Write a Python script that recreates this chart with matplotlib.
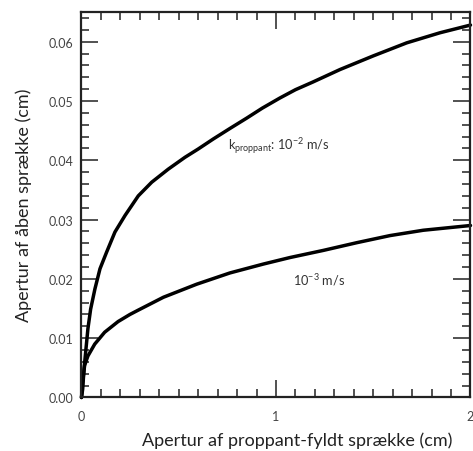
import matplotlib
matplotlib.use("Agg")
import matplotlib.pyplot as plt
from matplotlib.ticker import MultipleLocator

plt.rcParams['font.family'] = ['Lato', 'DejaVu Sans']
plt.rcParams['mathtext.fontset'] = 'custom'
plt.rcParams['mathtext.rm'] = 'Lato'
plt.rcParams['mathtext.it'] = 'Lato'

# Filled-fracture aperture (cm) vs. open-fracture aperture (cm)
# k_proppant = 1e-2 m/s
x_k2 = [0, 0.006, 0.013, 0.023, 0.033, 0.047, 0.069, 0.095, 0.129, 0.172,
        0.224, 0.292, 0.361, 0.446, 0.532, 0.600, 0.678, 0.765, 0.849, 0.93,
        1.02, 1.10, 1.19, 1.329, 1.50, 1.672, 1.843, 2.0]
y_k2 = [0, 0.0014, 0.0048, 0.0082, 0.0116, 0.0149, 0.0183, 0.0217, 0.0245,
        0.0279, 0.0307, 0.0340, 0.0363, 0.0385, 0.0405, 0.0419, 0.0436,
        0.0454, 0.0471, 0.0488, 0.0505, 0.0519, 0.0532, 0.0553, 0.0576,
        0.0598, 0.0615, 0.0628]

# k_proppant = 1e-3 m/s
x_k3 = [0, 0.006, 0.016, 0.033, 0.068, 0.119, 0.188, 0.249, 0.29, 0.421,
        0.592, 0.763, 0.935, 1.072, 1.243, 1.415, 1.586, 1.757, 2.0]
y_k3 = [0, 0.0026, 0.0054, 0.0070, 0.0090, 0.0110, 0.0128, 0.0140, 0.0147,
        0.0169, 0.0191, 0.0210, 0.0225, 0.0236, 0.0248, 0.0261, 0.0273,
        0.0282, 0.0290]

x_ticks = [0, 1, 2]
y_ticks = [0.00, 0.01, 0.02, 0.03, 0.04, 0.05, 0.06]

fig = plt.figure(figsize=(4.73, 4.52), dpi=100)
ax = fig.add_axes([0.1723, 0.1184, 0.8224, 0.8528])

for xs, ys in ((x_k2, y_k2), (x_k3, y_k3)):
    ax.plot(xs, ys, color='black', lw=2.5, solid_joinstyle='round',
            solid_capstyle='round', clip_on=False)

ax.set_xlim(0, 2)
ax.set_ylim(0, 0.065)
ax.set_xticks(x_ticks)
ax.set_yticks(y_ticks)
ax.set_yticklabels([f"{v:.2f}" for v in y_ticks])
ax.xaxis.set_minor_locator(MultipleLocator(0.1))
ax.yaxis.set_minor_locator(MultipleLocator(0.002))

ax.tick_params(which='both', direction='in', top=True, right=True,
               width=1.2, color='#333333', labelsize=9, labelcolor='#444444')
ax.tick_params(which='major', length=12)
ax.tick_params(axis='y', which='major', pad=6)
ax.tick_params(axis='x', which='major', pad=9)
ax.tick_params(which='minor', length=6)
for s in ax.spines.values():
    s.set_linewidth(1.6)
    s.set_color('#222222')

ax.set_xlabel('Apertur af proppant-fyldt sprække (cm)', fontsize=13,
              color='#222222')
ax.set_ylabel('Apertur af åben sprække (cm)', fontsize=13,
              color='#222222')
ax.xaxis.set_label_coords(0.554, -0.088)
ax.yaxis.set_label_coords(-0.127, 0.5)

ax.text(0.753, 0.0424, r'k$_{\mathregular{proppant}}$: 10$^{\mathregular{-2}}$ m/s',
        fontsize=9.2, color='#333333', va='center', ha='left')
ax.text(1.087, 0.0200, r'10$^{\mathregular{-3}}$ m/s',
        fontsize=9.2, color='#333333', va='center', ha='left')

fig.savefig('out.png', dpi=100)
